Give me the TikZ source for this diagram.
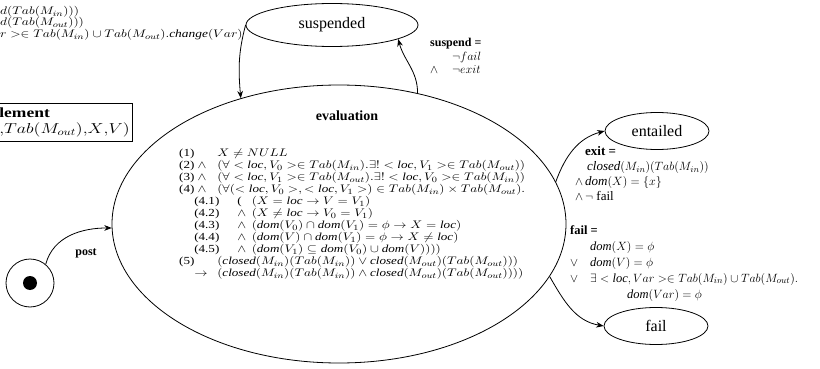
\documentclass[tikz,border=0pt]{standalone}
\usepackage{amsmath,amssymb}
\usepackage{graphicx}
\usepackage{fontspec}
\setmainfont{Liberation Serif}
\usetikzlibrary{arrows.meta,shapes.geometric}
% breiter gesetzter text
\newcommand{\wide}[2]{\scalebox{#1}[1]{\begin{tabular}{@{}l@{}}#2\end{tabular}}}
\tikzset{
  >={Stealth[length=2.6mm,width=2mm]},
  % zustaende
  st/.style={ellipse,draw=black,line width=0.8pt,inner sep=0pt,
             font=\fontsize{16}{18}\selectfont},
  tr/.style={->,draw=black,line width=0.8pt},
  % texte
  lab/.style={font=\fontsize{12}{13}\selectfont\bfseries,inner sep=0pt},
  fm/.style={font=\fontsize{11}{12}\selectfont,inner sep=0pt,anchor=north west,
             align=left},
}

\begin{document}
\begin{tikzpicture}[x=1pt,y=1pt]
\useasboundingbox (0,0) rectangle (820,-369);
  \node[st,minimum width=454pt,minimum height=278pt] (ev) at (339,-224) {};
  \node[st,minimum width=172pt,minimum height=43pt] (susp) at (332,-25) {suspended};
  \node[st,minimum width=104pt,minimum height=37pt] (ent) at (657,-131) {entailed};
  \node[st,minimum width=104pt,minimum height=37pt] (fl) at (656,-326) {fail};
  \node[circle,draw,line width=0.8pt,minimum size=48pt,inner sep=0pt] (init) at (30,-283) {};
  \node[circle,fill=black,minimum size=14pt,inner sep=0pt] (dot) at (init) {};
  % uebergaenge
  \draw[tr] (init.50) to[out=75,in=180] (ev.181);
  \draw[tr] (susp.west) to[out=255,in=95] (ev.128);
  \draw[tr] (ev.59) to[out=90,in=-75] (susp.-12);
  \draw[tr] (ev.11) to[out=70,in=195] (ent.west);
  \draw[tr] (ev.-14) to[out=-60,in=170] (fl.west);
  % beschriftung
  \node[lab] (post) at (86,-253) {post};
  \node[font=\fontsize{14}{16}\selectfont\bfseries] (evl) at (347,-116) {evaluation};
  \node[fm,font=\fontsize{10.8}{12}\selectfont] (cond) at (179,-148) {\wide{1.21}{%
    \makebox[31.5pt][l]{(1)}$X \neq NULL$\\
    \makebox[31.5pt][l]{(2) $\wedge$}$(\forall <\mathit{loc},V_0>\in Tab(M_{in}).\exists! <\mathit{loc},V_1>\in Tab(M_{out}))$\\
    \makebox[31.5pt][l]{(3) $\wedge$}$(\forall <\mathit{loc},V_1>\in Tab(M_{out}).\exists! <\mathit{loc},V_0>\in Tab(M_{in}))$\\
    \makebox[31.5pt][l]{(4) $\wedge$}$(\forall(<\mathit{loc},V_0>,<\mathit{loc},V_1>)\in Tab(M_{in})\times Tab(M_{out}).$\\
    \hspace*{12.5pt}\makebox[35.5pt][l]{(4.1)}\makebox[12pt][l]{(}$(X=\mathit{loc}\rightarrow V=V_1)$\\
    \hspace*{12.5pt}\makebox[35.5pt][l]{(4.2)}\makebox[12pt][l]{$\wedge$}$(X\neq \mathit{loc}\rightarrow V_0=V_1)$\\
    \hspace*{12.5pt}\makebox[35.5pt][l]{(4.3)}\makebox[12pt][l]{$\wedge$}$(\mathit{dom}(V_0)\cap \mathit{dom}(V_1)=\phi\rightarrow X=\mathit{loc})$\\
    \hspace*{12.5pt}\makebox[35.5pt][l]{(4.4)}\makebox[12pt][l]{$\wedge$}$(\mathit{dom}(V)\cap \mathit{dom}(V_1)=\phi\rightarrow X\neq \mathit{loc})$\\
    \hspace*{12.5pt}\makebox[35.5pt][l]{(4.5)}\makebox[12pt][l]{$\wedge$}$(\mathit{dom}(V_1)\subseteq \mathit{dom}(V_0)\cup \mathit{dom}(V))))$\\
    \makebox[31.5pt][l]{(5)}$(\mathit{closed}(M_{in})(Tab(M_{in}))\vee \mathit{closed}(M_{out})(Tab(M_{out})))$\\
    \hspace*{12.5pt}\makebox[19pt][l]{$\rightarrow$}$(\mathit{closed}(M_{in})(Tab(M_{in}))\wedge \mathit{closed}(M_{out})(Tab(M_{out}))))$}};
  \node[fm,font=\fontsize{12}{13.5}\selectfont] (suspc) at (430,-38) {%
    \textbf{suspend =}\\
    \hspace*{22pt}$\neg fail$\\
    \makebox[22pt][l]{$\wedge$}$\neg exit$};
  \node[fm,font=\fontsize{13}{15}\selectfont] (exitc) at (575,-146) {%
    \hspace*{10pt}\textbf{exit =}\\
    \hspace*{12pt}$\mathit{closed}(M_{in})(Tab(M_{in}))$\\
    $\wedge\, \mathit{dom}(X)=\{x\}$\\
    $\wedge\,\neg$ fail};
  \node[fm,font=\fontsize{12.5}{16}\selectfont] (failc) at (570,-225) {%
    \textbf{fail =}\\
    \hspace*{20pt}$\mathit{dom}(X)=\phi$\\
    \makebox[20pt][l]{$\vee$}$\mathit{dom}(V)=\phi$\\
    \makebox[20pt][l]{$\vee$}$\exists <\mathit{loc},Var>\in Tab(M_{in})\cup Tab(M_{out}).$\\
    \hspace*{57pt}$\mathit{dom}(Var)=\phi$};
  \node[fm,font=\fontsize{11}{11}\selectfont] (top) at (0,-6) {\wide{1.22}{%
    $d(Tab(M_{in})))$\\
    $d(Tab(M_{out})))$\\
    $r >\in Tab(M_{in})\cup Tab(M_{out}).\mathit{change}(Var)$}};
  \node[draw,line width=0.6pt,anchor=north west,inner sep=3pt,
        font=\fontsize{14}{16}\selectfont] (elem) at (-4,-103) {\wide{1.25}{%
    \textbf{lement}\\ ${,}Tab(M_{out}){,}X{,}V)$}};
\end{tikzpicture}
\end{document}
